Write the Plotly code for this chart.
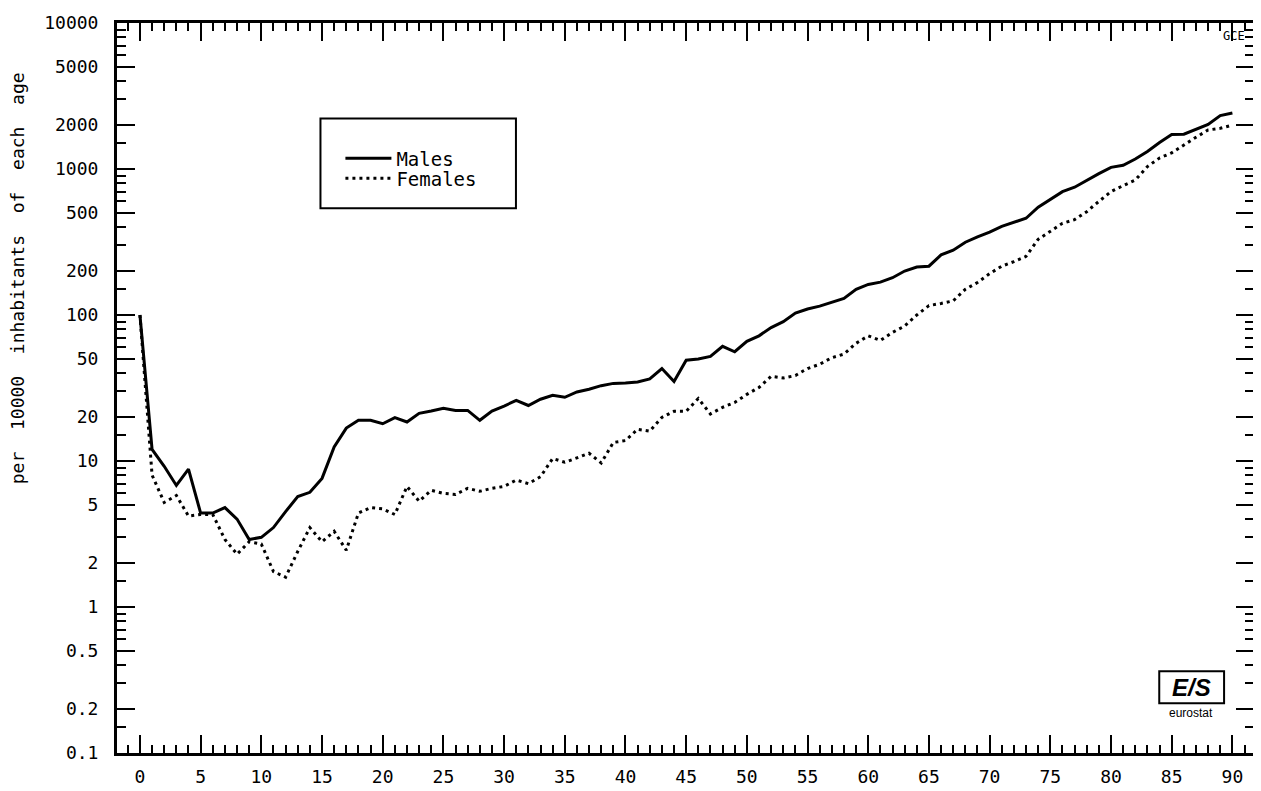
import plotly.graph_objects as go

# ---------------- data ----------------
ages = list(range(0, 91))

males = [100, 12, 9.2, 6.8, 8.8, 4.4, 4.4, 4.8, 4.0, 2.9,
         3.0, 3.5, 4.5, 5.7, 6.1, 7.6, 12.5, 16.8, 19, 19,
         18, 19.8, 18.5, 21.2, 22, 23, 22.2, 22.2, 19, 22,
         23.8, 26, 24, 26.5, 28.2, 27.3, 29.7, 31, 32.8, 34,
         34.2, 34.8, 36.5, 43, 35, 49, 50, 52, 61, 56,
         66, 72, 82, 90, 103, 110, 115, 122, 130, 150,
         162, 168, 180, 200, 213, 216, 258, 278, 315, 343,
         370, 405, 434, 460, 547, 620, 700, 750, 840, 930,
         1026, 1060, 1170, 1320, 1520, 1720, 1730, 1860, 2020, 2320,
         2420]

females = [100, 8, 5.2, 5.8, 4.2, 4.3, 4.3, 2.9, 2.3, 2.8,
           2.7, 1.75, 1.6, 2.4, 3.5, 2.8, 3.3, 2.45, 4.4, 4.8,
           4.7, 4.3, 6.7, 5.3, 6.3, 6.0, 5.9, 6.5, 6.2, 6.5,
           6.7, 7.4, 7.0, 7.8, 10.4, 9.8, 10.5, 11.3, 9.7, 13.4,
           13.8, 16.5, 16, 19.9, 21.9, 21.9, 26.8, 21, 23.3, 25.2,
           28.6, 31.9, 38, 37, 38.5, 43, 46, 51, 54, 64,
           72, 67, 76, 84, 100, 116, 120, 125, 150, 167,
           192, 216, 232, 252, 330, 375, 425, 450, 510, 600,
           700, 770, 840, 1040, 1190, 1290, 1465, 1650, 1850, 1900,
           2000]

y_major = [0.1, 0.2, 0.5, 1, 2, 5, 10, 20, 50, 100, 200, 500, 1000, 2000, 5000, 10000]
y_major_labels = ["0.1", "0.2", "0.5", "1", "2", "5", "10", "20", "50", "100",
                  "200", "500", "1000", "2000", "5000", "10000"]
y_minor_mantissas = [1.5, 3, 4, 6, 7, 8, 9]
y_minor = [m * 10 ** e for e in range(-1, 4) for m in y_minor_mantissas]
x_major = list(range(0, 91, 5))
x_major_labels = [str(v) for v in x_major]

series_names = ["Males", "Females"]
y_title = "per 10000 inhabitants of each age"

# ---------------- geometry (screen px; page body has an 8px margin) ----------------
OFF = 8
SCREEN_W, SCREEN_H = 1261, 791
PLOT_L, PLOT_R, PLOT_T, PLOT_B = 117, 1257, 21, 754
W, H = SCREEN_W - OFF, SCREEN_H - OFF
ML, MT = PLOT_L - OFF, PLOT_T - OFF
MR, MB = SCREEN_W - PLOT_R, SCREEN_H - PLOT_B
PW = PLOT_R - PLOT_L
PH = PLOT_B - PLOT_T


def px(x):
    return (x - PLOT_L) / PW


def py(y):
    return (PLOT_B - y) / PH


FONT = "DejaVu Sans Mono"

fig = go.Figure()
fig.add_trace(go.Scatter(x=ages, y=males, name=series_names[0], mode="lines",
                         line=dict(color="black", width=3), legend="legend"))
fig.add_trace(go.Scatter(x=ages, y=females, name=series_names[1], mode="lines",
                         line=dict(color="black", width=3, dash="3px,4px"),
                         legend="legend2"))

axis_common = dict(showline=True, linewidth=3, linecolor="black", mirror="ticks",
                   ticks="inside", ticklen=18, tickwidth=2, tickcolor="black",
                   showgrid=False, zeroline=False,
                   tickfont=dict(family=FONT, size=18, color="black"))

legend_common = dict(xanchor="left", yanchor="top", bgcolor="rgba(0,0,0,0)",
                     borderwidth=0, itemwidth=46, tracegroupgap=0,
                     font=dict(family=FONT, size=19, color="black"))

fig.update_layout(
    width=W, height=H,
    margin=dict(l=ML, r=MR, t=MT, b=MB),
    paper_bgcolor="white", plot_bgcolor="white",
    font=dict(family=FONT, size=16, color="black"),
    xaxis=dict(range=[-1.89, 91.78], tickmode="array", tickvals=x_major,
               ticktext=x_major_labels, ticklabelstandoff=5,
               minor=dict(dtick=1, tick0=0, ticks="inside", ticklen=8, tickwidth=2,
                          tickcolor="black", showgrid=False),
               **axis_common),
    yaxis=dict(type="log", range=[-1, 4], tickmode="array", tickvals=y_major,
               ticktext=y_major_labels, ticklabelstandoff=12,
               minor=dict(tickvals=y_minor, ticks="inside", ticklen=9, tickwidth=2,
                          tickcolor="black", showgrid=False),
               **axis_common),
    showlegend=True,
    legend=dict(x=px(341), y=py(138), **legend_common),
    legend2=dict(x=px(341), y=py(158), **legend_common),
)

# legend frame
fig.add_shape(type="rect", xref="paper", yref="paper",
              x0=px(321), x1=px(517), y0=py(207), y1=py(117),
              line=dict(color="black", width=2), fillcolor="rgba(0,0,0,0)")

# eurostat logo
fig.add_shape(type="rect", xref="paper", yref="paper",
              x0=px(1162), x1=px(1227), y0=py(704), y1=py(672),
              line=dict(color="black", width=2), fillcolor="white")

title_text = "\u00a0\u00a0".join(y_title.split(" "))
annotations = [
    dict(text=title_text, x=px(18), y=py(277), xref="paper", yref="paper",
         textangle=-90, showarrow=False, xanchor="center", yanchor="middle",
         font=dict(family=FONT, size=18, color="black")),
    dict(text="<b><i>E/S</i></b>", x=px(1194), y=py(688), xref="paper", yref="paper",
         showarrow=False, xanchor="center", yanchor="middle",
         font=dict(family="Liberation Sans", size=24, color="black")),
    dict(text="eurostat", x=px(1194), y=py(714), xref="paper", yref="paper",
         showarrow=False, xanchor="center", yanchor="middle",
         font=dict(family="Liberation Sans", size=12, color="black")),
    dict(text="GCE", x=px(1237), y=py(34), xref="paper", yref="paper",
         showarrow=False, xanchor="center", yanchor="middle",
         font=dict(family=FONT, size=12, color="black")),
]
fig.update_layout(annotations=annotations)

fig.write_html("out.html")
